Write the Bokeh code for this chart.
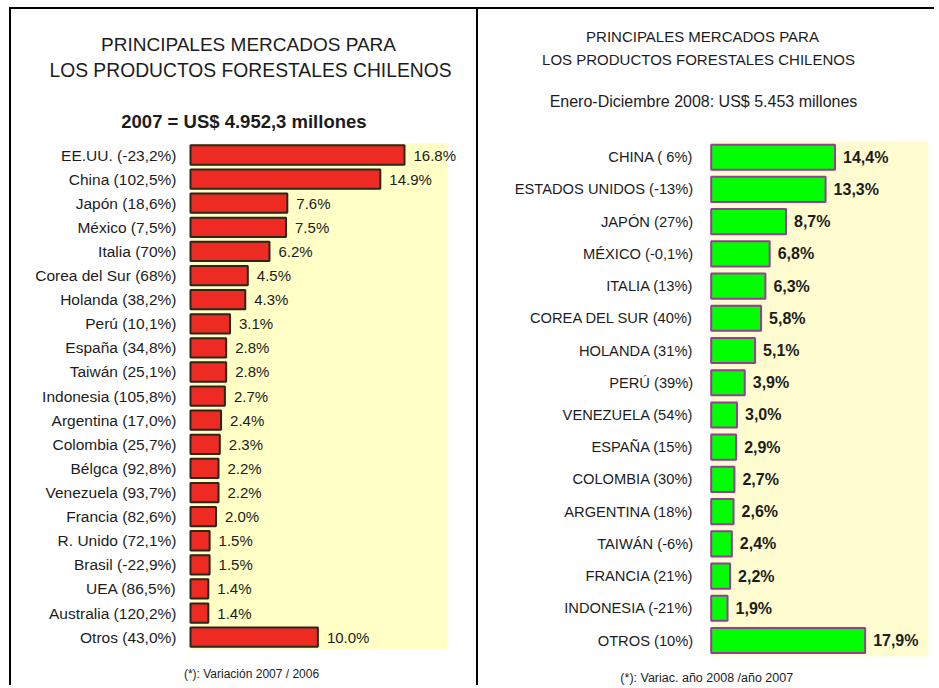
from bokeh.plotting import figure
from bokeh.models import ColumnDataSource, Range1d, LabelSet, Label, BoxAnnotation
from bokeh.core.properties import value
from bokeh.layouts import row
from bokeh.embed import file_html
from bokeh.resources import INLINE

# ---------------- data: 2007 (left panel) ----------------
countries_2007 = ["EE.UU.", "China", "Japón", "México", "Italia", "Corea del Sur",
                  "Holanda", "Perú", "España", "Taiwán", "Indonesia", "Argentina",
                  "Colombia", "Bélgca", "Venezuela", "Francia", "R. Unido", "Brasil",
                  "UEA", "Australia", "Otros"]
variation_2007 = ["-23,2%", "102,5%", "18,6%", "7,5%", "70%", "68%", "38,2%", "10,1%",
                  "34,8%", "25,1%", "105,8%", "17,0%", "25,7%", "92,8%", "93,7%",
                  "82,6%", "72,1%", "-22,9%", "86,5%", "120,2%", "43,0%"]
share_2007 = [16.8, 14.9, 7.6, 7.5, 6.2, 4.5, 4.3, 3.1, 2.8, 2.8, 2.7, 2.4, 2.3,
              2.2, 2.2, 2.0, 1.5, 1.5, 1.4, 1.4, 10.0]

# ---------------- data: 2008 (right panel) ----------------
countries_2008 = ["CHINA", "ESTADOS UNIDOS", "JAPÓN", "MÉXICO", "ITALIA", "COREA DEL SUR",
                  "HOLANDA", "PERÚ", "VENEZUELA", "ESPAÑA", "COLOMBIA", "ARGENTINA",
                  "TAIWÁN", "FRANCIA", "INDONESIA", "OTROS"]
variation_2008 = [" 6%", "-13%", "27%", "-0,1%", "13%", "40%", "31%", "39%", "54%",
                  "15%", "30%", "18%", "-6%", "21%", "-21%", "10%"]
share_2008 = [14.4, 13.3, 8.7, 6.8, 6.3, 5.8, 5.1, 3.9, 3.0, 2.9, 2.7, 2.6, 2.4,
              2.2, 1.9, 17.9]

FONT = "Liberation Sans"
TXT = "#1c1c1c"
H = 678


class Geo:
    """Maps page pixel positions to data coordinates for a panel whose frame is its canvas."""

    def __init__(self, org_x, org_y, w, h, x0, sx, y0, pitch):
        self.org_x, self.org_y, self.w, self.h = org_x, org_y, w, h
        self.x0, self.sx, self.y0, self.pitch = x0, sx, y0, pitch

    def x_range(self):
        return Range1d((self.org_x - self.x0) / self.sx, (self.org_x + self.w - self.x0) / self.sx)

    def y_range(self):
        return Range1d((self.y0 - (self.org_y + self.h)) / self.pitch, (self.y0 - self.org_y) / self.pitch)

    def dx(self, px):
        return (px - self.x0) / self.sx

    def dy(self, py):
        return (self.y0 - py) / self.pitch


def make_panel(geo, cats, vals, vtxt, bar_fill, bar_line, bar_h, yellow, yellow_right_px,
               cat_size, cat_standoff, val_size, val_bold, val_offset):
    n = len(cats)
    src = ColumnDataSource(dict(cat=cats, val=vals, txt=vtxt, pos=[-i for i in range(n)]))
    p = figure(width=geo.w, height=geo.h, output_backend="svg", toolbar_location=None,
               x_range=geo.x_range(), y_range=geo.y_range(),
               x_axis_location=None, y_axis_location=None,
               min_border=0, min_border_left=0, min_border_right=0,
               min_border_top=0, min_border_bottom=0)
    p.background_fill_color = "white"
    p.border_fill_color = "white"
    p.outline_line_color = None
    p.grid.visible = False
    p.add_layout(BoxAnnotation(left=0, right=geo.dx(yellow_right_px), top=0.5, bottom=-(n - 1) - 0.5,
                               fill_color=yellow, fill_alpha=1.0, line_color=None, level="underlay"))
    p.hbar(y="pos", right="val", left=0, height=bar_h, source=src,
           fill_color=bar_fill, line_color=bar_line, line_width=2)
    p.add_layout(LabelSet(x=0, y="pos", text="cat", source=src, x_offset=-cat_standoff,
                          text_baseline="middle", text_align="right", text_font=value(FONT),
                          text_font_size=value(cat_size), text_color=TXT))
    p.add_layout(LabelSet(x="val", y="pos", text="txt", source=src, x_offset=val_offset,
                          text_baseline="middle", text_align="left", text_font=value(FONT),
                          text_font_size=value(val_size),
                          text_font_style=value("bold" if val_bold else "normal"),
                          text_color=TXT))
    return p


def add_text(p, geo, text, px, py, size, bold=False):
    p.add_layout(Label(x=geo.dx(px), y=geo.dy(py), text=text, text_align="center",
                       text_baseline="middle", text_font=FONT, text_font_size=size,
                       text_color=TXT, text_font_style="bold" if bold else "normal"))


# ---------------- left panel ----------------
gL = Geo(org_x=11, org_y=9, w=469, h=H, x0=190, sx=214 / 16.8, y0=154.5, pitch=24.11)
labels_2007 = [f"{c} ({v})" for c, v in zip(countries_2007, variation_2007)]
p1 = make_panel(gL, labels_2007, share_2007, [f"{v:.1f}%" for v in share_2007],
                bar_fill="#EE2B23", bar_line="#2a261a", bar_h=0.8, yellow="#FFFFC6",
                yellow_right_px=447, cat_size="15.5px", cat_standoff=14,
                val_size="15px", val_bold=False, val_offset=9)
add_text(p1, gL, "PRINCIPALES MERCADOS PARA", 248, 44, "19px")
add_text(p1, gL, "LOS PRODUCTOS FORESTALES CHILENOS", 250, 70, "19.3px")
add_text(p1, gL, "2007 =  US$ 4.952,3 millones", 246, 121, "18.5px", bold=True)
add_text(p1, gL, "(*): Variación 2007 / 2006", 251, 673, "12px")
p1.styles = {"margin-top": "7px", "margin-left": "9px", "border-top": "2px solid black",
             "border-left": "2px solid black", "border-right": "2px solid black"}

# ---------------- right panel ----------------
gR = Geo(org_x=482, org_y=9, w=456, h=H, x0=714.7, sx=8.6, y0=156.7, pitch=32.22)
labels_2008 = [f"{c} ({v})" for c, v in zip(countries_2008, variation_2008)]
p2 = make_panel(gR, labels_2008, share_2008,
                [f"{v:.1f}%".replace(".", ",") for v in share_2008],
                bar_fill="#00FF00", bar_line="#9B3A9B", bar_h=0.78, yellow="#FFFDCF",
                yellow_right_px=932, cat_size="14.7px", cat_standoff=18,
                val_size="16px", val_bold=True, val_offset=8)
add_text(p2, gR, "PRINCIPALES MERCADOS PARA", 706, 36, "15px")
add_text(p2, gR, "LOS PRODUCTOS FORESTALES CHILENOS", 702, 59, "15px")
add_text(p2, gR, "Enero-Diciembre 2008: US$ 5.453 millones", 707, 101, "16px")
add_text(p2, gR, "(*): Variac. año 2008 /año  2007", 712, 677, "12.5px")
p2.styles = {"margin-top": "7px", "border-top": "2px solid black"}

layout = row(p1, p2)
open("out.html", "w").write(file_html(layout, INLINE))
